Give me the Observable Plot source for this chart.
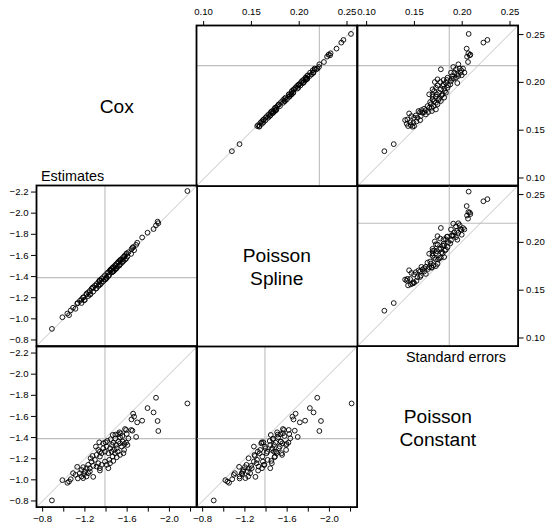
<!DOCTYPE html>
<html>
<head>
<meta charset="utf-8">
<script src="https://cdn.jsdelivr.net/npm/d3@7"></script>
<script src="https://cdn.jsdelivr.net/npm/@observablehq/plot@0.6"></script>
<style>
  html, body { margin: 0; padding: 0; background: #fff; }
  #chart { position: relative; width: 548px; height: 527px; overflow: hidden; background: #fff;
           font-family: "Liberation Sans", Arial, Helvetica, sans-serif; }
  #chart svg { position: absolute; overflow: visible; }
</style>
</head>
<body>
<div id="chart"></div>
<script>
// ---------------- data ----------------
const variables = ["Cox", "Spline", "Constant"];
const diagLabels = ["Cox", "Poisson\nSpline", "Poisson\nConstant"];
const groupLabels = ["Estimates", "Standard errors"];

const coxEst = [-2.170,-1.873,-1.793,-1.850,-1.657,-1.666,-1.641,-1.695,-1.742,-1.888,
  -1.895,-1.638,-1.650,-1.580,-1.685,-1.539,-1.527,-1.555,-1.514,-1.463,
  -1.488,-1.596,-1.590,-1.336,-1.396,-1.412,-1.457,-1.469,-1.495,-1.517,
  -1.533,-1.558,-1.574,-1.590,-1.603,-1.549,-1.501,-1.476,-1.438,-1.406,
  -1.374,-1.342,-1.327,-1.358,-1.390,-1.422,-1.453,-1.485,-1.511,-1.463,
  -1.431,-1.390,-1.342,-1.311,-1.295,-1.327,-1.358,-1.406,-1.438,-1.469,
  -1.501,-1.533,-1.565,-1.342,-1.279,-1.263,-1.254,-1.273,-1.231,-1.215,
  -1.200,-1.127,-1.088,-1.111,-1.133,-1.168,-1.184,-1.193,-1.215,-1.231,
  -1.247,-1.279,-1.342,-1.034,-1.050,-0.987,-1.066,-0.888,-1.152,-1.168,
  -1.247,-1.304,-1.374,-1.444,-1.311,-1.422,-1.571,-1.612,-1.533,-1.488,-1.184];
const splEst = [-2.210,-1.885,-1.815,-1.850,-1.680,-1.650,-1.660,-1.720,-1.770,-1.920,
  -1.905,-1.615,-1.672,-1.560,-1.700,-1.560,-1.505,-1.575,-1.535,-1.445,
  -1.510,-1.620,-1.570,-1.360,-1.375,-1.435,-1.440,-1.490,-1.475,-1.540,
  -1.555,-1.540,-1.595,-1.612,-1.590,-1.530,-1.522,-1.455,-1.460,-1.390,
  -1.395,-1.322,-1.345,-1.340,-1.412,-1.405,-1.475,-1.500,-1.495,-1.485,
  -1.415,-1.370,-1.365,-1.290,-1.315,-1.310,-1.380,-1.385,-1.455,-1.450,
  -1.480,-1.552,-1.548,-1.362,-1.258,-1.285,-1.235,-1.295,-1.215,-1.238,
  -1.180,-1.145,-1.105,-1.095,-1.150,-1.150,-1.205,-1.175,-1.232,-1.250,
  -1.228,-1.300,-1.325,-1.050,-1.035,-1.015,-1.080,-0.905,-1.170,-1.185,
  -1.265,-1.285,-1.355,-1.465,-1.330,-1.440,-1.590,-1.630,-1.515,-1.468,-1.200];
const conEst = [-1.723,-1.777,-1.679,-1.638,-1.626,-1.598,-1.572,-1.544,-1.560,-1.557,
  -1.462,-1.472,-1.465,-1.481,-1.406,-1.440,-1.450,-1.415,-1.431,-1.425,
  -1.428,-1.434,-1.472,-1.355,-1.355,-1.368,-1.330,-1.352,-1.330,-1.362,
  -1.346,-1.362,-1.340,-1.352,-1.330,-1.315,-1.299,-1.283,-1.299,-1.315,
  -1.299,-1.267,-1.283,-1.252,-1.267,-1.252,-1.267,-1.252,-1.267,-1.220,
  -1.189,-1.173,-1.220,-1.236,-1.189,-1.157,-1.142,-1.142,-1.157,-1.179,
  -1.214,-1.236,-1.252,-1.110,-1.132,-1.173,-1.204,-1.226,-1.142,-1.110,
  -1.079,-1.123,-1.063,-1.047,-1.013,-1.032,-1.016,-1.054,-1.032,-1.063,
  -1.079,-1.028,-1.088,-0.972,-0.984,-0.997,-1.006,-0.805,-1.063,-1.094,
  -1.110,-1.315,-1.346,-1.384,-1.126,-1.110,-1.283,-1.393,-1.403,-1.390,-1.120];

const coxSE = [0.2507,0.2416,0.2444,0.2353,0.2304,0.2283,0.2269,0.2290,0.2213,0.2137,
  0.2161,0.2189,0.2144,0.2126,0.2084,0.2144,0.2137,0.2067,0.2039,0.2049,
  0.1993,0.2025,0.2102,0.2102,0.2102,0.1979,0.1997,0.1962,0.2004,0.1969,
  0.1944,0.1927,0.1934,0.1944,0.1892,0.1875,0.1892,0.1909,0.1875,0.1875,
  0.1850,0.1829,0.1822,0.1794,0.1787,0.1752,0.1717,0.1770,0.1805,0.1840,
  0.1752,0.1735,0.1710,0.1724,0.1710,0.1689,0.1700,0.1770,0.2032,0.1927,
  0.1280,0.1354,0.1675,0.1605,0.1567,0.1553,0.1536,0.1591,0.1605,0.1700,
  0.1630,0.1612,0.1584,0.1577,0.1654,0.1630,0.1647,0.1543,0.1543,0.1647,
  0.1682,0.1665,0.1864,0.1909,0.1969,0.2014,0.2039,0.2049,0.2067,0.2074,
  0.2102,0.1815,0.1805,0.1735,0.1689,0.1689,0.1875,0.1979,0.2025,0.2004,0.1850];
const splSE = [0.2531,0.2430,0.2452,0.2380,0.2318,0.2312,0.2281,0.2296,0.2248,0.2151,
  0.2196,0.2200,0.2180,0.2131,0.2120,0.2150,0.2168,0.2072,0.2075,0.2060,
  0.2028,0.2031,0.2135,0.2104,0.2139,0.1990,0.2032,0.1966,0.2040,0.1978,
  0.1980,0.1935,0.1968,0.1950,0.1928,0.1884,0.1925,0.1915,0.1910,0.1881,
  0.1886,0.1835,0.1860,0.1800,0.1822,0.1760,0.1752,0.1775,0.1840,0.1846,
  0.1788,0.1740,0.1745,0.1730,0.1744,0.1695,0.1735,0.1778,0.2065,0.1933,
  0.1285,0.1365,0.1708,0.1611,0.1600,0.1560,0.1570,0.1597,0.1638,0.1706,
  0.1664,0.1618,0.1617,0.1583,0.1688,0.1636,0.1680,0.1550,0.1576,0.1652,
  0.1716,0.1670,0.1898,0.1914,0.2003,0.2020,0.2072,0.2054,0.2100,0.2080,
  0.2136,0.1821,0.1838,0.1741,0.1722,0.1695,0.1908,0.1985,0.2058,0.2010,0.1884];
const conSE = [0.2078,0.2232,0.2274,0.2057,0.2075,0.2089,0.2061,0.2096,0.2071,0.1787,
  0.1917,0.1970,0.1984,0.2001,0.1956,0.2019,0.1945,0.1907,0.1903,0.1857,
  0.1959,0.1815,0.1893,0.1928,0.1991,0.1886,0.1840,0.1805,0.1780,0.1752,
  0.1735,0.1787,0.1822,0.1857,0.1770,0.1805,0.1840,0.1717,0.1700,0.1665,
  0.1735,0.1770,0.1700,0.1675,0.1735,0.1710,0.1735,0.1752,0.1787,0.1822,
  0.1647,0.1665,0.1630,0.1612,0.1584,0.1570,0.1693,0.1682,0.1752,0.1700,
  0.1196,0.1294,0.1455,0.1413,0.1430,0.1472,0.1490,0.1532,0.1570,0.1553,
  0.1507,0.1437,0.1465,0.1500,0.1525,0.1542,0.1479,0.1444,0.1507,0.1577,
  0.1595,0.1630,0.1794,0.1829,0.1864,0.1893,0.1921,0.1945,0.1970,0.2005,
  0.2033,0.1759,0.1717,0.1689,0.1654,0.1612,0.1745,0.1815,0.1850,0.1724,0.1700];

// reference lines
const estRef = [-1.39, -1.39, -1.39];
const seRef = [0.2175, 0.2200, 0.1875];

// scale limits and ticks
const estDomain = [-0.742, -2.262];
const seDomain = [0.0915, 0.2595];
const estTicks = [-0.8, -1.0, -1.2, -1.4, -1.6, -1.8, -2.0, -2.2];
const estXLabels = [-0.8, -1.2, -1.6, -2.0];
const seTicks = [0.10, 0.15, 0.20, 0.25];

// ---------------- layout ----------------
const FONT = '"Liberation Sans", Arial, Helvetica, sans-serif';
const M = 40;
const P = 160.6;
const colLeft = [35.5, 196.1, 356.7];
const rowTop = [24.7, 185.3, 345.9];
const GREY = "#bdbdbd";
const TICKFS = 9.6;

const estRows = coxEst.map((v, i) => ({Cox: v, Spline: splEst[i], Constant: conEst[i]}));
const seRows = coxSE.map((v, i) => ({Cox: v, Spline: splSE[i], Constant: conSE[i]}));

const chart = document.getElementById("chart");
const fmt1 = d3.format(".1f");
const fmt2 = d3.format(".2f");

function place(svg, left, top) {
  svg.style.left = left + "px";
  svg.style.top = top + "px";
  chart.appendChild(svg);
}

for (let r = 0; r < 3; r++) {
  for (let c = 0; c < 3; c++) {
    if (r === c) {
      const svg = Plot.plot({
        width: P, height: P, margin: 0,
        x: {domain: [0, 1], axis: null}, y: {domain: [0, 1], axis: null},
        style: {background: "none", overflow: "visible", fontFamily: FONT},
        marks: [
          Plot.text([diagLabels[r]], {text: d => d, frameAnchor: "middle", fontSize: 19.2,
            fontWeight: "normal", lineHeight: 1.22, fill: "black"})
        ]
      });
      place(svg, colLeft[c], rowTop[r]);
      continue;
    }
    const upper = r < c;
    const rows = upper ? seRows : estRows;
    const domain = upper ? seDomain : estDomain;
    const refs = upper ? seRef : estRef;
    const xv = variables[c], yv = variables[r];
    const marks = [
      Plot.ruleX([refs[c]], {stroke: GREY, strokeWidth: 1.1}),
      Plot.ruleY([refs[r]], {stroke: GREY, strokeWidth: 1.1}),
      Plot.line(domain, {x: d => d, y: d => d, stroke: GREY, strokeWidth: 0.9}),
      Plot.dot(rows, {x: xv, y: yv, r: 2.4, stroke: "black", strokeWidth: 0.9, fill: "none"}),
      Plot.frame({stroke: "black", strokeWidth: 1.8})
    ];
    if (upper && r === 0) {
      marks.push(Plot.axisX({anchor: "top", ticks: seTicks, tickSize: 5, tickPadding: 5,
        tickFormat: fmt2, fontSize: TICKFS, label: null, dx: c === 1 ? -1 : 1}));
    }
    if (upper && c === 2) {
      marks.push(Plot.axisY({anchor: "right", ticks: seTicks, tickSize: 5, tickPadding: 3,
        tickFormat: fmt2, fontSize: TICKFS, label: null}));
    }
    if (!upper && c === 0) {
      marks.push(Plot.axisY({anchor: "left", ticks: estTicks, tickSize: 5, tickPadding: 3,
        tickFormat: fmt1, fontSize: TICKFS, label: null}));
    }
    if (!upper && r === 2) {
      marks.push(Plot.axisX({anchor: "bottom", ticks: estTicks, tickSize: 5, tickPadding: 3,
        tickFormat: d => estXLabels.includes(d) ? fmt1(d) : "", fontSize: TICKFS, label: null}));
    }
    const svg = Plot.plot({
      width: P + 2 * M, height: P + 2 * M, margin: M,
      x: {domain, axis: null}, y: {domain, axis: null},
      style: {background: "none", overflow: "visible", fontFamily: FONT, fontSize: TICKFS + "px"},
      marks
    });
    place(svg, colLeft[c] - M, rowTop[r] - M);
  }
}

// group labels
const over = d3.create("svg")
  .attr("width", 548).attr("height", 527)
  .style("left", "0px").style("top", "0px")
  .style("pointer-events", "none")
  .style("font-family", FONT);
over.append("text").attr("x", 41).attr("y", 180.5).attr("font-size", 14.4)
  .text(groupLabels[0]);
over.append("text").attr("x", 406).attr("y", 362).attr("font-size", 14.4)
  .text(groupLabels[1]);
chart.appendChild(over.node());
</script>
</body>
</html>
